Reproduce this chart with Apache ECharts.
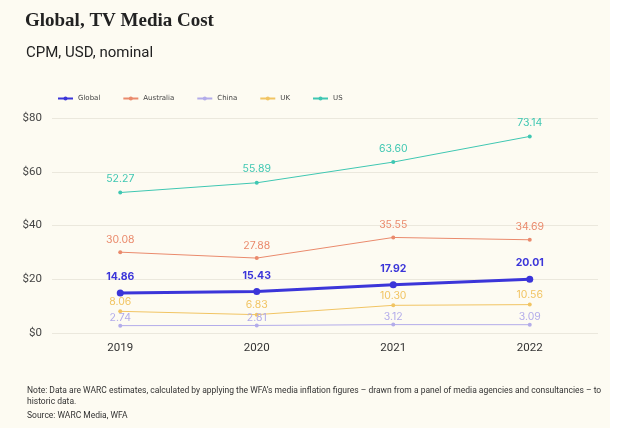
<!DOCTYPE html>
<html><head><meta charset="utf-8">
<script src="https://cdn.jsdelivr.net/npm/echarts@6/dist/echarts.min.js"></script>
<style>
html,body{margin:0;padding:0;background:#ffffff;}
#wrap{position:absolute;left:0;top:0;width:610px;height:428px;background:#fdfbf2;}
#chart{position:absolute;left:0;top:0;width:620px;height:428px;}
</style></head>
<body><div id="wrap"></div><div id="chart"></div>
<script>
const years = ['2019','2020','2021','2022'];
const globalVals = [14.86, 15.43, 17.92, 20.01];
const australiaVals = [30.08, 27.88, 35.55, 34.69];
const chinaVals = [2.74, 2.81, 3.12, 3.09];
const ukVals = [8.06, 6.83, 10.30, 10.56];
const usVals = [52.27, 55.89, 63.60, 73.14];
const yTicks = [0, 20, 40, 60, 80];

const chart = echarts.init(document.getElementById('chart'), null, {renderer:'canvas'});
function mk(name, data, color, width, sym, bold, dist){
  return {
    name, type:'line', data, symbol:'circle', symbolSize:sym,
    lineStyle:{color, width}, itemStyle:{color},
    label:{show:true, position:'top', distance: dist, color, fontSize:10.5,
      fontFamily:'Inter, "Noto Sans", sans-serif', fontWeight: bold?'bold':'normal',
      formatter:p=>p.value.toFixed(2)},
    z: bold?5:3
  };
}
chart.setOption({
  backgroundColor:'transparent',
  animation:false,
  title:[
    {text:'Global, TV Media Cost', left:20, top:7,
     textStyle:{fontFamily:'"Liberation Serif", "Times New Roman", serif', fontWeight:'bold', fontSize:19, color:'#222'}},
    {text:'CPM, USD, nominal', left:21, top:41,
     textStyle:{fontFamily:'Roboto, "Noto Sans", sans-serif', fontWeight:'normal', fontSize:15, color:'#222'}},
    {text:'Note: Data are WARC estimates, calculated by applying the WFA\u2019s media inflation figures \u2013 drawn from a panel of media agencies and consultancies \u2013 to\nhistoric data.',
     left:22, top:380, textStyle:{fontFamily:'Roboto, "Noto Sans", sans-serif', fontWeight:'normal', fontSize:8.5, lineHeight:11, color:'#333'}},
    {text:'Source: WARC Media, WFA', left:22, top:406,
     textStyle:{fontFamily:'Roboto, "Noto Sans", sans-serif', fontWeight:'normal', fontSize:8.5, color:'#333'}}
  ],
  legend:{left:52, top:90, itemWidth:15, itemHeight:5, itemGap:22,
    textStyle:{fontSize:7, color:'#444', fontFamily:'"DejaVu Sans", sans-serif'},
    data:['Global','Australia','China','UK','US']},
  grid:{left:52, right:22, top:118, height:215},
  xAxis:{type:'category', data:years, boundaryGap:true,
    axisLine:{show:false}, axisTick:{show:false},
    axisLabel:{color:'#333', fontSize:11.5, margin:9, fontFamily:'Roboto, "Noto Sans", sans-serif'}},
  yAxis:{type:'value', min:0, max:80, interval:20,
    axisLine:{show:false}, axisTick:{show:false},
    splitLine:{lineStyle:{color:'#ebe8dd', width:1.2}},
    axisLabel:{color:'#444', fontSize:11.5, margin:10, fontFamily:'Roboto, "Noto Sans", sans-serif',
      formatter:v=>yTicks.includes(v)?'$'+v:''}},
  series:[
    mk('Global', globalVals, '#3b35d9', 3, 7, true, 7),
    mk('Australia', australiaVals, '#ea8a6c', 1, 4, false, 5),
    mk('China', chinaVals, '#b3acea', 1, 4, false, 0),
    mk('UK', ukVals, '#f1c463', 1, 4, false, 2),
    mk('US', usVals, '#3fc7b2', 1, 4, false, 6)
  ]
});
</script></body></html>
